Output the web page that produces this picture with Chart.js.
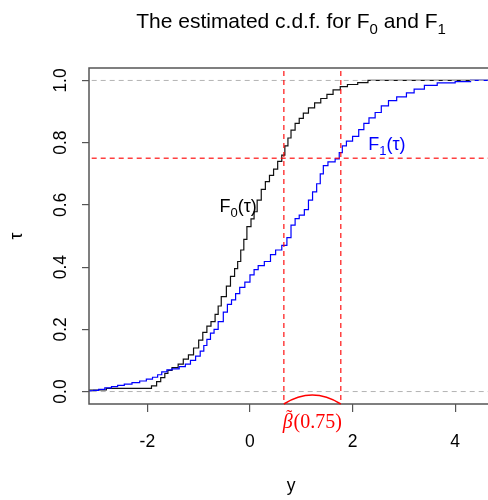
<!DOCTYPE html>
<html>
<head>
<meta charset="utf-8">
<script src="https://cdn.jsdelivr.net/npm/chart.js@4"></script>
<style>
  html, body { margin: 0; padding: 0; background: #fff; overflow: hidden; }
  canvas { display: block; }
</style>
</head>
<body>
<canvas id="cdfChart" width="488" height="500"></canvas>
<script>
// estimated c.d.f. of F0
const f0X = [-3.30, -2.80, -1.92, -1.82, -1.74, -1.66, -1.60, -1.52, -1.40, -1.30, -1.20, -1.10, -1.00, -0.92, -0.84,
             -0.76, -0.68, -0.62, -0.56, -0.46, -0.38, -0.30, -0.24, -0.18, -0.12, -0.06, 0.02, 0.08, 0.14, 0.22,
             0.30, 0.38, 0.46, 0.54, 0.62, 0.68, 0.74, 0.80, 0.88, 0.96, 1.04, 1.14, 1.26, 1.38, 1.50,
             1.62, 1.76, 1.90, 2.10, 2.30, 2.55, 4.80];
const f0Y = [0, 0.005, 0.010, 0.018, 0.032, 0.045, 0.058, 0.068, 0.077, 0.088, 0.104, 0.118, 0.140, 0.165, 0.190,
             0.210, 0.225, 0.248, 0.275, 0.305, 0.339, 0.370, 0.395, 0.418, 0.455, 0.489, 0.530, 0.555, 0.578, 0.615,
             0.650, 0.675, 0.695, 0.715, 0.740, 0.760, 0.790, 0.815, 0.840, 0.862, 0.878, 0.895, 0.912, 0.928, 0.942,
             0.955, 0.970, 0.980, 0.987, 0.993, 1.0, 1.0];

// estimated c.d.f. of F1
const f1X = [-3.30, -3.05, -2.95, -2.83, -2.70, -2.58, -2.45, -2.30, -2.15, -2.02, -1.90, -1.80, -1.72, -1.62, -1.52,
             -1.38, -1.26, -1.16, -1.06, -0.97, -0.90, -0.84, -0.77, -0.70, -0.62, -0.52, -0.44, -0.36, -0.28, -0.20,
             -0.10, 0.00, 0.08, 0.16, 0.28, 0.40, 0.50, 0.62, 0.72, 0.80, 0.88, 0.96, 1.06, 1.14, 1.22,
             1.30, 1.37, 1.43, 1.52, 1.66, 1.74, 1.80, 1.88, 2.00, 2.12, 2.22, 2.32, 2.44, 2.56, 2.70,
             2.86, 3.05, 3.20, 3.40, 3.65, 4.00, 4.30, 4.55, 4.80];
const f1Y = [0, 0.002, 0.004, 0.007, 0.012, 0.016, 0.020, 0.024, 0.029, 0.034, 0.040, 0.046, 0.054, 0.063, 0.070,
             0.073, 0.080, 0.088, 0.100, 0.114, 0.130, 0.148, 0.168, 0.188, 0.200, 0.225, 0.255, 0.280, 0.295, 0.315,
             0.335, 0.352, 0.375, 0.392, 0.405, 0.418, 0.440, 0.455, 0.470, 0.495, 0.535, 0.556, 0.567, 0.585, 0.615,
             0.642, 0.668, 0.700, 0.726, 0.738, 0.748, 0.768, 0.790, 0.805, 0.820, 0.842, 0.862, 0.880, 0.897, 0.918,
             0.935, 0.947, 0.960, 0.972, 0.984, 0.992, 0.996, 1.0, 1.0];

const tau = 0.75;
const q0 = 0.66;   // F0 reaches tau
const q1 = 1.77;   // F1 reaches tau
const refLevels = [0, 1];

const xTicks = [-2, 0, 2, 4];
const yTicks = [0, 0.2, 0.4, 0.6, 0.8, 1.0];
const yTickLabels = ['0.0', '0.2', '0.4', '0.6', '0.8', '1.0'];
const xLim = [-3.138, 4.64];
const yLim = [-0.04, 1.04];

const SANS = '"Liberation Sans", Arial, sans-serif';
const SERIF = '"Liberation Serif", "Times New Roman", serif';

const toPts = (xs, ys) => xs.map((v, i) => ({ x: v, y: ys[i] }));
const hLine = (lvl) => [{ x: xLim[0] - 1, y: lvl }, { x: xLim[1] + 1, y: lvl }];
const vLine = (v) => [{ x: v, y: yLim[0] - 1 }, { x: v, y: yLim[1] + 1 }];

// draws "F" with subscript then the rest, centred on cx
function subText(ctx, parts, cx, base, size, color) {
    ctx.fillStyle = color;
    const subSize = Math.round(size * 0.72);
    let w = 0;
    parts.forEach(p => {
        ctx.font = (p.sub ? subSize : size) + 'px ' + SANS;
        p.w = ctx.measureText(p.t).width;
        w += p.w;
    });
    let sx = cx - w / 2;
    ctx.textAlign = 'left';
    ctx.textBaseline = 'alphabetic';
    parts.forEach(p => {
        ctx.font = (p.sub ? subSize : size) + 'px ' + SANS;
        ctx.fillText(p.t, sx, p.sub ? base + size * 0.27 : base);
        sx += p.w;
    });
}

const decor = {
    id: 'decor',
    afterDatasetsDraw(chart) {
        const { ctx, chartArea: a, scales: { x, y } } = chart;
        ctx.save();

        // plot box (right side runs off the picture)
        ctx.strokeStyle = '#555';
        ctx.lineWidth = 1.5;
        ctx.beginPath();
        ctx.moveTo(a.right + 6, a.top);
        ctx.lineTo(a.left, a.top);
        ctx.lineTo(a.left, a.bottom);
        ctx.lineTo(a.right + 6, a.bottom);
        ctx.stroke();

        // arc between the two quantiles
        const p0 = x.getPixelForValue(q0);
        const p1 = x.getPixelForValue(q1);
        ctx.strokeStyle = '#ff0000';
        ctx.lineWidth = 1.6;
        ctx.beginPath();
        ctx.moveTo(p0, a.bottom);
        ctx.quadraticCurveTo((p0 + p1) / 2, a.bottom - 18, p1, a.bottom);
        ctx.stroke();

        // beta tilde label
        const mid = (p0 + p1) / 2;
        const base = a.bottom + 24;
        ctx.font = 'italic 20px ' + SERIF;
        const wB = ctx.measureText('\u03b2').width;
        ctx.font = '20px ' + SERIF;
        const wP = ctx.measureText('(0.75)').width;
        let sx = mid - (wB + 1 + wP) / 2;
        ctx.fillStyle = '#ff0000';
        ctx.textAlign = 'left';
        ctx.textBaseline = 'alphabetic';
        ctx.font = 'italic 20px ' + SERIF;
        ctx.fillText('\u03b2', sx, base);
        ctx.textAlign = 'center';
        ctx.font = '18px ' + SERIF;
        ctx.fillText('\u02dc', sx + wB / 2 + 1.5, base - 5);
        ctx.textAlign = 'left';
        ctx.font = '20px ' + SERIF;
        ctx.fillText('(0.75)', sx + wB + 1, base);

        // curve labels
        subText(ctx, [{ t: 'F' }, { t: '0', sub: true }, { t: '(\u03c4)' }],
            x.getPixelForValue(-0.23), y.getPixelForValue(0.6) + 7, 18, '#000');
        subText(ctx, [{ t: 'F' }, { t: '1', sub: true }, { t: '(\u03c4)' }],
            x.getPixelForValue(2.67), y.getPixelForValue(0.8) + 7, 18, '#0000ff');

        // rotated y tick labels
        ctx.fillStyle = '#000';
        ctx.font = '17.5px ' + SANS;
        ctx.textAlign = 'center';
        yTicks.forEach((v, i) => {
            ctx.save();
            ctx.translate(a.left - 23, y.getPixelForValue(v));
            ctx.rotate(-Math.PI / 2);
            ctx.fillText(yTickLabels[i], 0, 0);
            ctx.restore();
        });

        // axis titles
        const plotMid = (a.left + a.right + 5) / 2;
        ctx.fillText('y', plotMid, 491);
        ctx.save();
        ctx.translate(22, (a.top + a.bottom) / 2);
        ctx.rotate(-Math.PI / 2);
        ctx.fillText('\u03c4', 0, 0);
        ctx.restore();

        // main title
        subText(ctx, [{ t: 'The estimated c.d.f. for F' }, { t: '0', sub: true }, { t: ' and F' }, { t: '1', sub: true }],
            plotMid, 28, 21, '#000');

        ctx.restore();
    }
};

const dashed = { borderDash: [5, 4], pointRadius: 0, fill: false };

new Chart(document.getElementById('cdfChart'), {
    type: 'line',
    data: {
        datasets: [
            { label: 'F0', data: toPts(f0X, f0Y), borderColor: '#111', borderWidth: 1.2, stepped: 'after', pointRadius: 0, order: 5 },
            { label: 'F1', data: toPts(f1X, f1Y), borderColor: '#0000ff', borderWidth: 1.2, stepped: 'after', pointRadius: 0, order: 4 },
            ...refLevels.map(l => ({ label: 'ref ' + l, data: hLine(l), borderColor: '#b3b3b3', borderWidth: 1, order: 3, ...dashed })),
            { label: 'tau', data: hLine(tau), borderColor: 'rgba(255,0,0,0.75)', borderWidth: 1.5, order: 2, ...dashed },
            { label: 'q0', data: vLine(q0), borderColor: 'rgba(255,0,0,0.75)', borderWidth: 1.5, order: 2, ...dashed },
            { label: 'q1', data: vLine(q1), borderColor: 'rgba(255,0,0,0.75)', borderWidth: 1.5, order: 2, ...dashed }
        ]
    },
    options: {
        responsive: false,
        animation: false,
        devicePixelRatio: 1,
        layout: { padding: { left: 69, top: 68, right: 0, bottom: 40 } },
        plugins: { legend: { display: false }, tooltip: { enabled: false }, title: { display: false } },
        scales: {
            x: {
                type: 'linear',
                min: xLim[0],
                max: xLim[1],
                afterBuildTicks: s => { s.ticks = xTicks.map(v => ({ value: v })); },
                afterFit: s => { s.height = 56; },
                grid: { display: true, drawOnChartArea: false, drawTicks: true, tickLength: 8, color: '#555', lineWidth: 1.2 },
                border: { display: false },
                ticks: { color: '#000', font: { family: SANS, size: 17.5 }, padding: 20, maxRotation: 0 }
            },
            y: {
                type: 'linear',
                min: yLim[0],
                max: yLim[1],
                afterBuildTicks: s => { s.ticks = yTicks.map(v => ({ value: v })); },
                afterFit: s => { s.width = 20; },
                grid: { display: true, drawOnChartArea: false, drawTicks: true, tickLength: 7, color: '#555', lineWidth: 1.2 },
                border: { display: false },
                ticks: { display: false }
            }
        }
    },
    plugins: [decor]
});
</script>
</body>
</html>
